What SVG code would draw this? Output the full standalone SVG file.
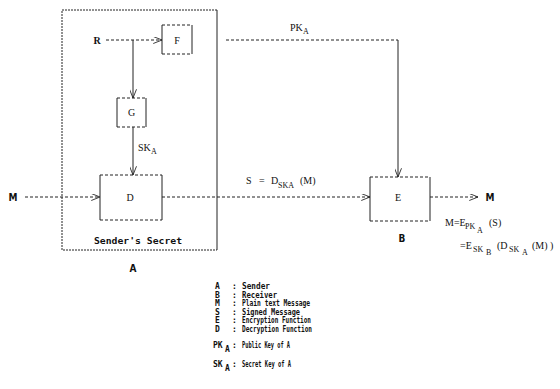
<svg xmlns="http://www.w3.org/2000/svg" width="560" height="389" viewBox="0 0 560 389">
<style>
.dash{stroke:#222;stroke-width:1;fill:none;stroke-dasharray:3,2}
.dot{stroke:#222;stroke-width:1;fill:none;stroke-dasharray:2,1}
.solid{stroke:#222;stroke-width:1;fill:none}
.ser{font-family:"Liberation Serif",serif;font-size:10px;fill:#111}
.sub{font-family:"Liberation Serif",serif;font-size:8px;fill:#111}
.bold{font-family:"DejaVu Sans Condensed","DejaVu Sans",sans-serif;font-weight:bold;font-size:10px;fill:#111}
.leg{font-family:"DejaVu Sans Mono",monospace;font-weight:bold;font-size:8px;fill:#111}
</style>
<defs>
<marker id="arr" viewBox="0 0 10 8" refX="10" refY="4" markerWidth="10" markerHeight="7" markerUnits="userSpaceOnUse" orient="auto">
<path d="M0,0 L10,4 L0,8" fill="none" stroke="#222" stroke-width="1"/>
</marker>
</defs>
<rect width="560" height="389" fill="#fff"/>

<g id="sender-secret">
<path class="dot" d="M217,10 H62 V250 H217"/>
<line class="solid" x1="217" y1="10" x2="217" y2="250"/>
<text class="leg" x="138" y="244" text-anchor="middle" font-size="10" textLength="88" lengthAdjust="spacingAndGlyphs">Sender's Secret</text>
<text class="bold" x="133" y="272" text-anchor="middle">A</text>
</g>

<g id="connectors">
<line class="dash" x1="106" y1="40" x2="162" y2="40" marker-end="url(#arr)"/>
<line class="solid" x1="133" y1="40" x2="133" y2="98" marker-end="url(#arr)"/>
<line class="solid" x1="133" y1="127" x2="133" y2="175" marker-end="url(#arr)"/>
<line class="dash" x1="25" y1="197" x2="100" y2="197" marker-end="url(#arr)"/>
<line class="dash" x1="162" y1="197" x2="370" y2="197" marker-end="url(#arr)"/>
<line class="dash" x1="226" y1="40" x2="398" y2="40"/>
<line class="solid" x1="398" y1="40" x2="398" y2="177" marker-end="url(#arr)"/>
<line class="dash" x1="430" y1="197" x2="478" y2="197" marker-end="url(#arr)"/>
<text class="ser" x="290" y="31">PK</text><text class="sub" x="303" y="34">A</text>
<text class="ser" x="138" y="151">SK</text><text class="sub" x="151" y="154">A</text>
<text class="ser" x="246" y="184">S</text>
<text class="ser" x="259" y="184">=</text>
<text class="ser" x="271" y="184">D</text>
<text class="sub" x="278" y="188">SKA</text>
<text class="ser" x="300" y="184">(M)</text>
</g>

<g id="R"><text class="ser" x="97" y="44" text-anchor="middle" font-weight="bold">R</text></g>
<g id="M-in"><text class="bold" x="13" y="201" text-anchor="middle">M</text></g>

<g id="F">
<path class="dash" d="M162,25 H192 M162,54 H192"/>
<path class="solid" d="M162,25 V54 M192,25 V54"/>
<text class="ser" x="177" y="44" text-anchor="middle">F</text>
</g>

<g id="G">
<path class="dash" d="M117,98 H146 M117,127 H146"/>
<path class="solid" d="M117,98 V127 M146,98 V127"/>
<text class="ser" x="131.5" y="116" text-anchor="middle">G</text>
</g>

<g id="D">
<path class="dash" d="M100,175 H162 M100,220 H162"/>
<path class="solid" d="M100,175 V220 M162,175 V220"/>
<text class="ser" x="130" y="201" text-anchor="middle">D</text>
</g>

<g id="E">
<path class="dash" d="M370,177 H430 M370,221 H430"/>
<path class="solid" d="M370,177 V221 M430,177 V221"/>
<text class="ser" x="398" y="201" text-anchor="middle">E</text>
<text class="bold" x="402" y="242" text-anchor="middle">B</text>
</g>

<g id="M-out">
<text class="bold" x="490" y="201" text-anchor="middle">M</text>
<text class="ser" x="445" y="226">M=E</text><text class="sub" x="465" y="229">PK</text><text class="sub" x="477" y="233">A</text><text class="ser" x="489" y="226">(S)</text>
<text class="ser" x="460" y="249">=E</text><text class="sub" x="473" y="252">SK</text><text class="sub" x="486" y="255">B</text><text class="ser" x="497" y="249">(D</text><text class="sub" x="509" y="252">SK</text><text class="sub" x="522" y="255">A</text><text class="ser" x="532" y="249">(M) )</text>
</g>

<g id="legend">
<text class="leg" x="215" y="289">A</text><text class="leg" x="232" y="289">:</text><text class="leg" x="242" y="289" textLength="28" lengthAdjust="spacingAndGlyphs">Sender</text>
<text class="leg" x="215" y="297.5">B</text><text class="leg" x="232" y="297.5">:</text><text class="leg" x="242" y="297.5" textLength="35" lengthAdjust="spacingAndGlyphs">Receiver</text>
<text class="leg" x="215" y="306">M</text><text class="leg" x="232" y="306">:</text><text class="leg" x="242" y="306" textLength="68" lengthAdjust="spacingAndGlyphs">Plain text Message</text>
<text class="leg" x="215" y="314.5">S</text><text class="leg" x="232" y="314.5">:</text><text class="leg" x="242" y="314.5" textLength="58" lengthAdjust="spacingAndGlyphs">Signed Message</text>
<text class="leg" x="215" y="323">E</text><text class="leg" x="232" y="323">:</text><text class="leg" x="242" y="323" textLength="69" lengthAdjust="spacingAndGlyphs">Encryption Function</text>
<text class="leg" x="215" y="331.5">D</text><text class="leg" x="232" y="331.5">:</text><text class="leg" x="242" y="331.5" textLength="70" lengthAdjust="spacingAndGlyphs">Decryption Function</text>
<text class="leg" x="213" y="348" font-size="10">PK</text><text class="leg" x="225" y="352">A</text><text class="leg" x="232" y="348">:</text><text class="leg" x="242" y="348" font-size="10" textLength="48" lengthAdjust="spacingAndGlyphs">Public Key of A</text>
<text class="leg" x="213" y="367" font-size="10">SK</text><text class="leg" x="225" y="371">A</text><text class="leg" x="232" y="367">:</text><text class="leg" x="242" y="367" font-size="10" textLength="49" lengthAdjust="spacingAndGlyphs">Secret Key of A</text>
</g>
</svg>
